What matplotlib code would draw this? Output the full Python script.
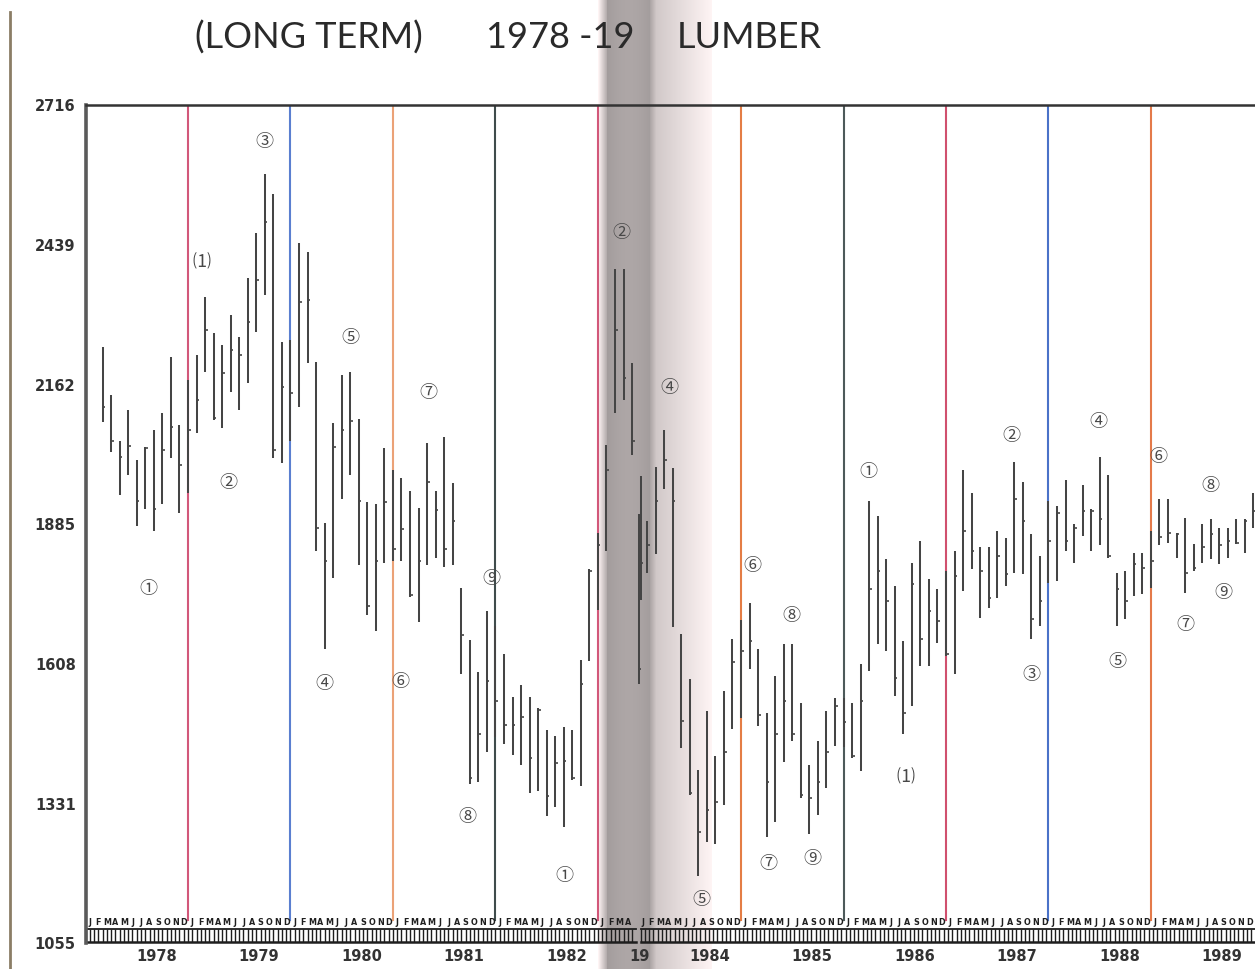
import numpy as np
import matplotlib
matplotlib.use("Agg")
import matplotlib.pyplot as plt
from matplotlib.lines import Line2D

W, H = 1255, 969

# ---------------- data: monthly range bars (month 1 = Jan 1978) ----------------
left_months = list(range(2, 66))
left_high = [2236, 2141, 2051, 2111, 2012, 2038, 2071, 2105, 2217, 2081, 2171, 2221, 2336,
             2264, 2240, 2300, 2256, 2374, 2463, 2579, 2539, 2246, 2250, 2443, 2424, 2207,
             1888, 2085, 2181, 2187, 2093, 1930, 1926, 2036, 1992, 1976, 1950, 1918, 2047,
             1950, 2057, 1966, 1759, 1655, 1592, 1713, 1683, 1627, 1542, 1566, 1542, 1520,
             1478, 1466, 1484, 1478, 1616, 1797, 1868, 2043, 2390, 2390, 2205, 1980]
left_low = [2087, 2028, 1942, 1982, 1882, 1916, 1872, 1926, 2016, 1908, 1946, 2065, 2187,
            2091, 2075, 2147, 2111, 2165, 2266, 2340, 2016, 2006, 2051, 2117, 2205, 1832,
            1637, 1779, 1936, 1982, 1805, 1705, 1673, 1809, 1813, 1813, 1741, 1691, 1805,
            1819, 1801, 1805, 1588, 1371, 1375, 1434, 1464, 1450, 1428, 1407, 1353, 1357,
            1307, 1325, 1285, 1379, 1367, 1614, 1715, 1832, 2105, 2131, 2023, 1735]
left_close = [2117, 2051, 2018, 2041, 1932, 2036, 1916, 2032, 2077, 2002, 2071, 2131, 2270,
              2095, 2185, 2230, 2220, 2286, 2370, 2485, 2032, 2157, 2146, 2326, 2330, 1878,
              1813, 2039, 2071, 2089, 1932, 1723, 1813, 1930, 1836, 1876, 1745, 1813, 1968,
              1914, 1836, 1892, 1665, 1383, 1470, 1574, 1534, 1488, 1488, 1502, 1421, 1516,
              1347, 1411, 1415, 1383, 1568, 1793, 1843, 1992, 2270, 2175, 2051, 1809]

right_months = list(range(72, 145))
right_high = [1906, 1892, 1998, 2071, 1996, 1667, 1578, 1397, 1514, 1426, 1554, 1657, 1695,
              1729, 1637, 1510, 1584, 1647, 1647, 1530, 1407, 1456, 1514, 1540, 1540, 1530,
              1608, 1932, 1902, 1817, 1763, 1653, 1809, 1852, 1777, 1757, 1793, 1832, 1992,
              1946, 1839, 1839, 1872, 1858, 2008, 1968, 1866, 1823, 1932, 1922, 1972, 1886,
              1962, 1916, 2018, 1982, 1789, 1793, 1829, 1829, 1872, 1936, 1936, 1868, 1898,
              1846, 1886, 1896, 1878, 1878, 1896, 1896, 1946]
right_low = [1568, 1789, 1827, 1954, 1681, 1442, 1349, 1188, 1255, 1251, 1329, 1480, 1500,
             1598, 1486, 1265, 1295, 1413, 1456, 1343, 1271, 1309, 1363, 1446, 1444, 1421,
             1395, 1594, 1647, 1633, 1544, 1470, 1524, 1604, 1604, 1649, 1624, 1588, 1753,
             1797, 1699, 1719, 1739, 1763, 1789, 1787, 1657, 1683, 1769, 1773, 1832, 1809,
             1862, 1832, 1843, 1819, 1683, 1697, 1743, 1747, 1759, 1843, 1848, 1819, 1749,
             1793, 1809, 1817, 1807, 1819, 1846, 1829, 1878]
right_close = [1598, 1843, 1932, 2012, 1932, 1496, 1353, 1275, 1319, 1335, 1434, 1612, 1633,
               1653, 1506, 1375, 1470, 1534, 1470, 1349, 1343, 1375, 1434, 1524, 1494, 1425,
               1534, 1757, 1793, 1733, 1580, 1510, 1767, 1657, 1713, 1693, 1628, 1783, 1872,
               1832, 1793, 1739, 1823, 1787, 1936, 1892, 1697, 1733, 1852, 1908, 1852, 1878,
               1912, 1912, 1896, 1823, 1757, 1733, 1807, 1799, 1813, 1860, 1868, 1866, 1789,
               1799, 1839, 1866, 1843, 1852, 1848, 1892, 1912]

y_ticks = [1055, 1331, 1608, 1885, 2162, 2439, 2716]
years = [1978, 1979, 1980, 1981, 1982, 1983, 1984, 1985, 1986, 1987, 1988, 1989]
year_text = ["1978", "1979", "1980", "1981", "1982", "19", "1984", "1985", "1986", "1987", "1988", "1989"]
divider_months = [12, 24, 36, 48, 60, 84, 96, 108, 120, 132]
divider_colors = ["#d2587a", "#5a7fd0", "#eba277", "#3f4c4c", "#d2587a",
                  "#e47d45", "#4d5a5a", "#d0506e", "#4a72c8", "#e47a4a"]
wave_month = [7.4, 13.6, 16.7, 21.0, 28.0, 31.0, 36.9, 40.1, 44.7, 47.5, 56.1, 62.7,
              75.6, 79.4, 85.3, 87.2, 89.9, 92.3, 98.9, 103.2, 115.7, 118.0, 125.9, 128.1,
              132.9, 136.0, 138.9, 140.5]
wave_value = [1757, 2404, 1966, 2642, 1568, 2254, 1572, 2145, 1305, 1777, 1188, 2463,
              2155, 1140, 1803, 1212, 1703, 1222, 1988, 1383, 2059, 1586, 2087, 1612,
              2018, 1685, 1960, 1749]
wave_text = ["①", "⑴", "②", "③", "④", "⑤", "⑥", "⑦", "⑧", "⑨", "①", "②",
             "④", "⑤", "⑥", "⑦", "⑧", "⑨", "①", "⑴", "②", "③", "④", "⑤",
             "⑥", "⑦", "⑧", "⑨"]
month_letters = "JFMAMJJASOND"

# right-hand page of the book is shifted (months hidden in the binding)
GAP = 7.24
def disp(m):
    m = np.asarray(m, dtype=float)
    return np.where(m >= 69.5, m - GAP, m)

CIRC = ["Noto Sans CJK JP", "DejaVu Sans"]

fig = plt.figure(figsize=(W / 100, H / 100), dpi=100)
fig.patch.set_facecolor("white")

# ---------- background: book gutter shading and page edge ----------
bg = fig.add_axes([0, 0, 1, 1], zorder=0)
bg.set_xlim(0, W)
bg.set_ylim(H, 0)
bg.axis("off")
px = np.arange(598, 712)
prof = np.ones_like(px, dtype=float)
for i, p in enumerate(px):
    if p < 607:
        g = 1.0 - (p - 598) / 9 * 0.32
    elif p < 650:
        g = 0.64 + 0.04 * np.sin((p - 607) / 43 * np.pi)
    elif p < 656:
        g = 0.68 + (p - 650) / 6 * 0.14
    else:
        g = 0.82 + (p - 656) / 56 * 0.18
    prof[i] = min(g, 1.0)
img = np.stack([prof * 1.0, prof * 0.96, prof * 0.96], axis=-1)[None, :, :]
bg.imshow(img, extent=[598, 712, H, 0], aspect="auto", interpolation="bilinear")
bg.add_line(Line2D([10, 10], [12, H], color="#8b7d66", lw=2.0))

# ---------- main chart axes ----------
x0, x1 = 85.5, 1255
ytop, ybot = 105, 943
ax = fig.add_axes([x0 / W, 1 - ybot / H, (x1 - x0) / W, (ybot - ytop) / H], zorder=1)
ax.patch.set_alpha(0)
xmax = (x1 - x0) / 8.54
ax.set_xlim(0, xmax)
ax.set_ylim(1055, 2716)

for sp in ["right", "bottom"]:
    ax.spines[sp].set_visible(False)
ax.spines["left"].set_linewidth(2.6)
ax.spines["left"].set_color("#5a5a5a")
ax.spines["top"].set_linewidth(1.8)
ax.spines["top"].set_color("#333333")

ax.set_xticks([])
ax.set_yticks(y_ticks)
ax.set_yticklabels([str(v) for v in y_ticks], fontsize=10.5, fontweight="bold",
                   color="#333333", family="DejaVu Sans")
ax.tick_params(axis="y", length=0, pad=7)

# divider lines at year ends
for m, c in zip(divider_months, divider_colors):
    xd = float(disp(m))
    ax.plot([xd, xd], [1100, 2716], color=c, lw=1.5, zorder=2)

# range bars
for months, hi, lo, cl in [(left_months, left_high, left_low, left_close),
                           (right_months, right_high, right_low, right_close)]:
    xs = disp(months)
    ax.vlines(xs, lo, hi, color="#454545", lw=1.45, zorder=3)
    ax.hlines(cl, xs - 0.1, xs + 0.3, color="#454545", lw=1.2, zorder=3)

# wave-count labels
for m, v, t in zip(wave_month, wave_value, wave_text):
    ax.text(float(disp(m)), v, t, fontsize=13, family=CIRC, color="#484848",
            ha="center", va="center", zorder=4)

# month strip along the bottom
strip_months = list(range(1, 65)) + list(range(73, 145))
for m in strip_months:
    xm = float(disp(m)) - 0.5
    ax.text(xm, 1096, month_letters[(m - 1) % 12], fontsize=5.8, fontweight="bold",
            ha="center", va="center", color="#1e1e1e", clip_on=False, zorder=4)
for seg in [(0.0, 64.5), (65.0, xmax)]:
    ax.plot([seg[0], seg[1]], [1082, 1082], color="#1e1e1e", lw=1.3, clip_on=False)
    ax.plot([seg[0], seg[1]], [1056, 1056], color="#1e1e1e", lw=1.8, clip_on=False)
    ticks = np.arange(seg[0], seg[1], 0.5)
    ax.vlines(ticks, 1056, 1082, color="#1e1e1e", lw=1.0, clip_on=False)

# year labels
for yr, t in zip(years, year_text):
    m = 12 * (yr - 1978) + 8.3
    if yr == 1983:
        xm = 64.9
    else:
        xm = float(disp(m))
    ax.text(xm, -0.0165, t, transform=ax.get_xaxis_transform(), fontsize=10.5,
            fontweight="bold", color="#333333", ha="center", va="center", clip_on=False)

# title
TF = dict(fontsize=26, family=["Lato", "DejaVu Sans"], fontweight="normal",
          color="#2a2a2a", ha="center", va="center")
fig.text(309 / W, 1 - 38 / H, "(LONG TERM)", **TF)
fig.text(560 / W, 1 - 38 / H, "1978 -19", **TF)
fig.text(749 / W, 1 - 38 / H, "LUMBER", **TF)

fig.savefig("out.png", dpi=100)
